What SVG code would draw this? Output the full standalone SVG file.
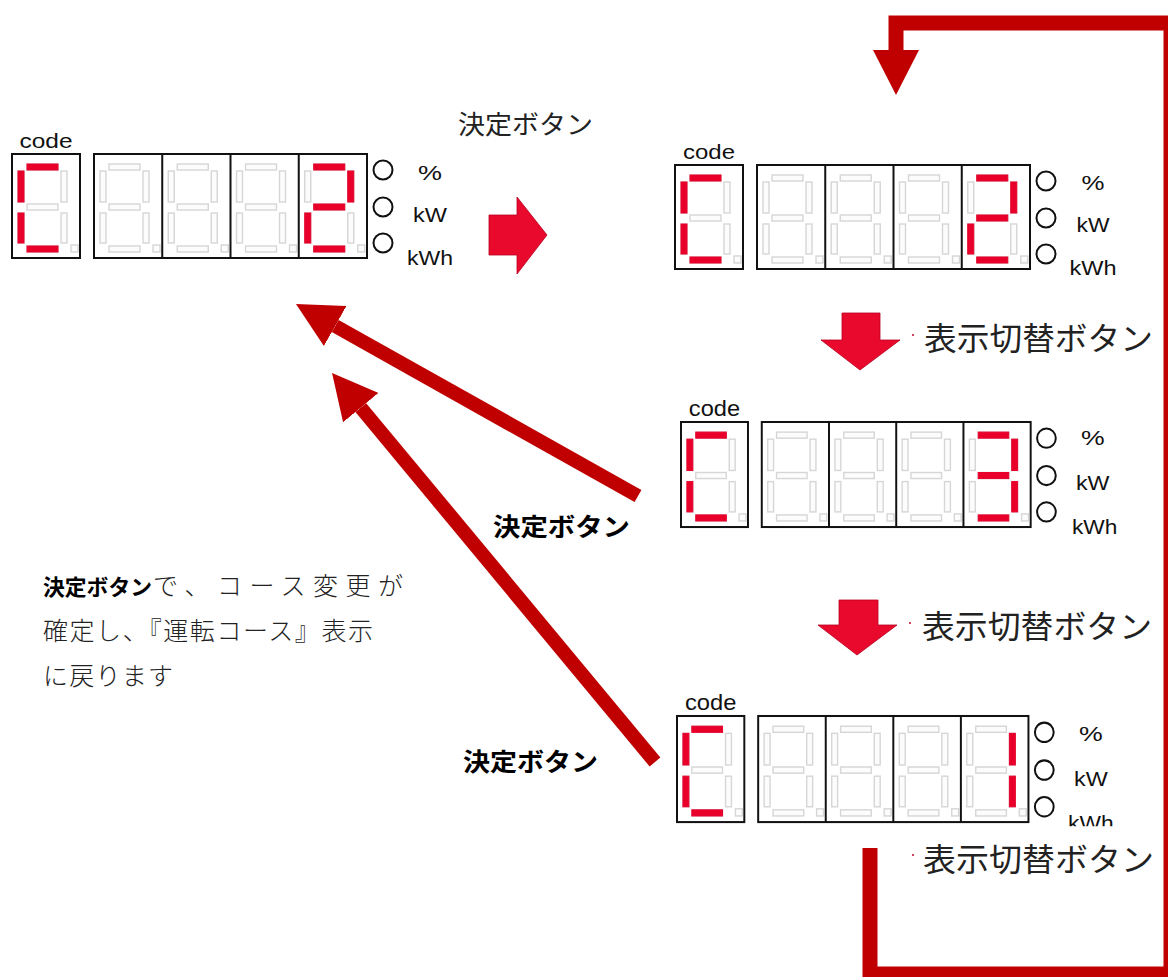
<svg xmlns="http://www.w3.org/2000/svg" width="1168" height="977" viewBox="0 0 1168 977">
<style>
.box{fill:#fff;stroke:#111;stroke-width:2}
.dv{fill:none;stroke:#111;stroke-width:2}
.off{fill:#fcfcfc;stroke:#d6d6d6;stroke-width:1.4}
.on{fill:#e8002b;stroke:#e8002b;stroke-width:1}
.led{fill:#fff;stroke:#111;stroke-width:2}
.lbl{font-family:"Liberation Sans",Arial,sans-serif;font-size:20px;fill:#111;text-anchor:middle}
.code{font-family:"Liberation Sans",Arial,sans-serif;font-size:21px;fill:#111;text-anchor:middle}
.jp{font-family:"Noto Sans CJK JP",sans-serif;fill:#222}
.jpb{font-family:"Noto Sans CJK JP",sans-serif;font-weight:700;fill:#000}
.note{font-family:"Noto Sans CJK JP",sans-serif;font-weight:300;fill:#222}
.blk{fill:#e8092c;stroke:#b80020;stroke-width:0.8}
.conn{fill:none;stroke:#c00000}
.dot{fill:#d04060}
</style>
<defs>
<rect id="sA" x="15" y="10" width="31" height="6"/>
<rect id="sB" x="49" y="17" width="6" height="31"/>
<rect id="sC" x="49" y="59" width="6" height="30"/>
<rect id="sD" x="15" y="92" width="31" height="6"/>
<rect id="sE" x="6" y="59" width="6" height="30"/>
<rect id="sF" x="6" y="17" width="6" height="31"/>
<rect id="sG" x="15" y="50" width="31" height="6"/>
<rect id="sP" x="59" y="91" width="7" height="7"/>
<g id="cell" class="off">
<use href="#sA"/><use href="#sB"/><use href="#sC"/><use href="#sD"/>
<use href="#sE"/><use href="#sF"/><use href="#sG"/><use href="#sP"/>
</g>
<g id="panel">
<rect class="box" x="0" y="0" width="68" height="104"/>
<rect class="box" x="82" y="0" width="273" height="104"/>
<use href="#cell" x="0" y="0"/>
<use href="#cell" x="82" y="0"/>
<use href="#cell" x="150.25" y="0"/>
<use href="#cell" x="218.5" y="0"/>
<use href="#cell" x="286.75" y="0"/>
<path class="dv" d="M150.25,0V104M218.5,0V104M286.75,0V104"/>
<circle class="led" cx="371" cy="16" r="9.5"/>
<circle class="led" cx="371" cy="53" r="9.5"/>
<circle class="led" cx="371" cy="89" r="9.5"/>
</g>
<clipPath id="clip4" clipPathUnits="userSpaceOnUse"><rect x="-20" y="-40" width="480" height="148"/></clipPath>
<marker id="ah" markerUnits="userSpaceOnUse" viewBox="0 0 45 46" refX="0" refY="23" markerWidth="45" markerHeight="46" orient="auto">
<path d="M0,0 L45,23 L0,46 z" fill="#c00000"/>
</marker>
</defs>

<g id="connectors">
<path class="conn" stroke-width="15" d="M870,848 V974 H1171 V23 H896 V50" marker-end="url(#ah)"/>
<line class="conn" stroke-width="14" x1="638" y1="496" x2="335.2" y2="326" marker-end="url(#ah)"/>
<line class="conn" stroke-width="14" x1="655" y1="762" x2="360.8" y2="407.6" marker-end="url(#ah)"/>
<polygon class="blk" points="489,215 517,215 517,197 547,235 517,274 517,255 489,255"/>
<polygon class="blk" points="842,313 880,313 880,340 900,340 860,370 821,340 842,340"/>
<polygon class="blk" points="839,600 878,600 878,625 897,625 857,655 818,625 839,625"/>
</g>

<g id="display1" transform="translate(12,154)">
<use href="#panel"/>
<use class="on" href="#sA"/><use class="on" href="#sF"/><use class="on" href="#sE"/><use class="on" href="#sD"/>
<g transform="translate(286.75,0)">
<use class="on" href="#sA"/><use class="on" href="#sB"/><use class="on" href="#sG"/><use class="on" href="#sE"/><use class="on" href="#sD"/>
</g>
<text class="code" x="34" y="-6" textLength="53" lengthAdjust="spacingAndGlyphs">code</text>
<text class="lbl" x="418" y="26" textLength="24" lengthAdjust="spacingAndGlyphs">%</text>
<text class="lbl" x="418" y="68" textLength="34" lengthAdjust="spacingAndGlyphs">kW</text>
<text class="lbl" x="418" y="111" textLength="46" lengthAdjust="spacingAndGlyphs">kWh</text>
</g>

<g id="display2" transform="translate(675,165)">
<use href="#panel"/>
<use class="on" href="#sA"/><use class="on" href="#sF"/><use class="on" href="#sE"/><use class="on" href="#sD"/>
<g transform="translate(286.75,0)">
<use class="on" href="#sA"/><use class="on" href="#sB"/><use class="on" href="#sG"/><use class="on" href="#sE"/><use class="on" href="#sD"/>
</g>
<text class="code" x="34" y="-6" textLength="52" lengthAdjust="spacingAndGlyphs">code</text>
<text class="lbl" x="418" y="25" textLength="23" lengthAdjust="spacingAndGlyphs">%</text>
<text class="lbl" x="418" y="67" textLength="33" lengthAdjust="spacingAndGlyphs">kW</text>
<text class="lbl" x="418" y="110" textLength="47" lengthAdjust="spacingAndGlyphs">kWh</text>
</g>

<g id="display3" transform="translate(681,422) scale(0.985,1.01)">
<use href="#panel"/>
<use class="on" href="#sA"/><use class="on" href="#sF"/><use class="on" href="#sE"/><use class="on" href="#sD"/>
<g transform="translate(286.75,0)">
<use class="on" href="#sA"/><use class="on" href="#sB"/><use class="on" href="#sG"/><use class="on" href="#sC"/><use class="on" href="#sD"/>
</g>
<text class="code" x="34" y="-6" textLength="52" lengthAdjust="spacingAndGlyphs">code</text>
<text class="lbl" x="418" y="23" textLength="24" lengthAdjust="spacingAndGlyphs">%</text>
<text class="lbl" x="418" y="67" textLength="34" lengthAdjust="spacingAndGlyphs">kW</text>
<text class="lbl" x="420" y="111" textLength="46" lengthAdjust="spacingAndGlyphs">kWh</text>
</g>

<g id="display4" transform="translate(677,716) scale(0.99,1.02)">
<use href="#panel"/>
<use class="on" href="#sA"/><use class="on" href="#sF"/><use class="on" href="#sE"/><use class="on" href="#sD"/>
<g transform="translate(286.75,0)">
<use class="on" href="#sB"/><use class="on" href="#sC"/>
</g>
<text class="code" x="34" y="-6" textLength="52" lengthAdjust="spacingAndGlyphs">code</text>
<text class="lbl" x="418" y="25" textLength="24" lengthAdjust="spacingAndGlyphs">%</text>
<text class="lbl" x="418" y="69" textLength="34" lengthAdjust="spacingAndGlyphs">kW</text>
<text class="lbl" x="418" y="112" textLength="46" lengthAdjust="spacingAndGlyphs" clip-path="url(#clip4)">kWh</text>
</g>

<g id="labels">
<text class="jp" x="458" y="134" font-size="26" textLength="135" lengthAdjust="spacingAndGlyphs">決定ボタン</text>
<rect class="dot" x="912" y="334" width="2" height="2"/>
<text class="jp" x="924" y="350" font-size="32" textLength="229" lengthAdjust="spacingAndGlyphs">表示切替ボタン</text>
<rect class="dot" x="909" y="622" width="2" height="2"/>
<text class="jp" x="922" y="638" font-size="32" textLength="230" lengthAdjust="spacingAndGlyphs">表示切替ボタン</text>
<rect class="dot" x="912" y="854" width="2" height="2"/>
<text class="jp" x="923" y="871" font-size="32" textLength="231" lengthAdjust="spacingAndGlyphs">表示切替ボタン</text>
<text class="jpb" x="493" y="536" font-size="25" textLength="137" lengthAdjust="spacingAndGlyphs">決定ボタン</text>
<text class="jpb" x="463" y="771" font-size="25" textLength="135" lengthAdjust="spacingAndGlyphs">決定ボタン</text>
</g>

<g id="note">
<text class="jpb" x="43" y="595" font-size="21.5" textLength="109" lengthAdjust="spacingAndGlyphs">決定ボタン</text>
<text class="note" x="153" y="595" font-size="25" textLength="250" lengthAdjust="spacing">で、コース変更が</text>
<text class="note" x="43" y="640" font-size="25" textLength="330" lengthAdjust="spacing">確定し、『運転コース』表示</text>
<text class="note" x="43" y="685" font-size="25" textLength="130" lengthAdjust="spacing">に戻ります</text>
</g>
</svg>
